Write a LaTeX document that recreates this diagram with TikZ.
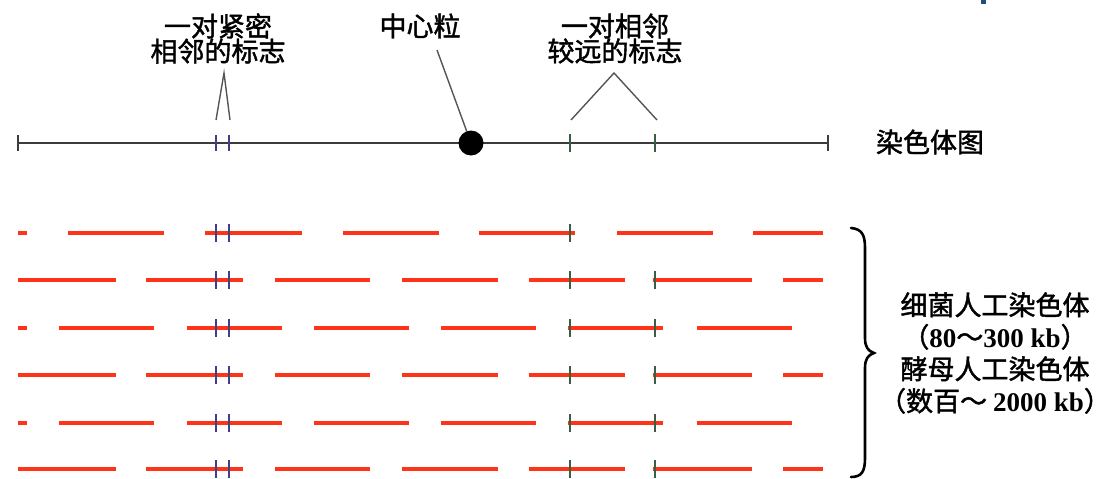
\documentclass[tikz,border=0pt]{standalone}
\usepackage{fontspec}
\setmainfont{Liberation Serif}
\newfontfamily\lat{Liberation Serif}
\newfontfamily\cjk{Noto Sans CJK SC}[FakeBold=1.5]
\definecolor{seg}{HTML}{FF3318}
\definecolor{bmark}{HTML}{40408A}
\definecolor{gmark}{HTML}{3A5E44}
\definecolor{chrom}{HTML}{3C3C3C}
\definecolor{lead}{HTML}{555555}
\tikzset{
  lab/.style={font=\cjk\fontsize{27}{25}\selectfont, align=center, inner sep=0pt},
  rlab/.style={font=\cjk\fontsize{27}{32}\selectfont, align=center, inner sep=0pt},
  redseg/.style={draw=seg, line width=4pt},
  btick/.style={draw=bmark, line width=2.8pt},
  gtick/.style={draw=gmark, line width=1.8pt},
  chromline/.style={draw=chrom, line width=2pt},
  leader/.style={draw=lead, line width=1.4pt},
}
\newcommand{\num}[1]{{\lat\bfseries #1}}
\begin{document}
\begin{tikzpicture}[x=1pt,y=-1pt]
\useasboundingbox (0,0) rectangle (1103,479);
\fill[color={rgb,255:red,31;green,78;blue,121}] (981,0) rectangle (986,4);
% labels
\node[lab] (close) at (218,38.5) {一对紧密\\相邻的标志};
\node[lab] (cenlab) at (420,26) {中心粒};
\node[lab] (far) at (615,38.5) {一对相邻\\较远的标志};
\node[lab] (map) at (930,142) {染色体图};
\node[rlab] (yac) at (995,353) {细菌人工染色体\\（\num{80}～\num{300 kb}）\\酵母人工染色体\\\hspace*{-0.45em}（数百～ \num{2000 kb}）\hspace*{-0.45em}};
% chromosome map
\coordinate (cL) at (18,143);
\coordinate (cR) at (828,143);
\draw[chromline] (cL) -- (cR);
\draw[chromline] (18,135) -- (18,151);
\draw[chromline] (828,135) -- (828,151);
\foreach \x in {216,229} \draw[btick] (\x,135) -- (\x,151);
\foreach \x in {570,655} \draw[gtick] (\x,134) -- (\x,152);
\node[circle, fill=black, minimum size=25pt, inner sep=0pt] (cent) at (471,143) {};
% leaders
\coordinate (cenA) at (437,50);
\draw[leader] (cenA) -- (cent);
\coordinate (clA) at (224,73);
\coordinate (clF1) at (216,120);
\coordinate (clF2) at (230,120);
\draw[leader] (clF1) -- (clA) -- (clF2);
\coordinate (farA) at (614,73);
\coordinate (farF1) at (571,120);
\coordinate (farF2) at (657,120);
\draw[leader] (farF1) -- (farA) -- (farF2);
% clone rows
\foreach \y in {233}{
  \foreach \a/\b in {18/27,68/164,205/302,343/439,479/575,617/713,753/823}
    \draw[redseg] (\a,\y) -- (\b,\y);
  \foreach \x in {216,229} \draw[btick] (\x,\y-9) -- (\x,\y+9);
  \draw[gtick] (570,\y-9) -- (570,\y+9);
}
\foreach \y in {280,375,469}{
  \foreach \a/\b in {18/116,146/243,275/370,402/498,529/625,653/752,783/823}
    \draw[redseg] (\a,\y) -- (\b,\y);
  \foreach \x in {216,229} \draw[btick] (\x,\y-9) -- (\x,\y+9);
  \foreach \x in {570,655} \draw[gtick] (\x,\y-9) -- (\x,\y+9);
}
\foreach \y in {328,423}{
  \foreach \a/\b in {18/27,59/154,187/282,314/409,441/536,568/663,697/792}
    \draw[redseg] (\a,\y) -- (\b,\y);
  \foreach \x in {216,229} \draw[btick] (\x,\y-9) -- (\x,\y+9);
  \foreach \x in {570,655} \draw[gtick] (\x,\y-9) -- (\x,\y+9);
}
% brace
\draw[black, line width=2.6pt, line cap=round]
  (851,228) .. controls (862,229) and (865,235) .. (865,248) -- (865,338)
  .. controls (865,347) and (868,351) .. (874,353)
  .. controls (868,355) and (865,359) .. (865,368) -- (865,458)
  .. controls (865,471) and (862,477) .. (851,477);
\end{tikzpicture}
\end{document}
